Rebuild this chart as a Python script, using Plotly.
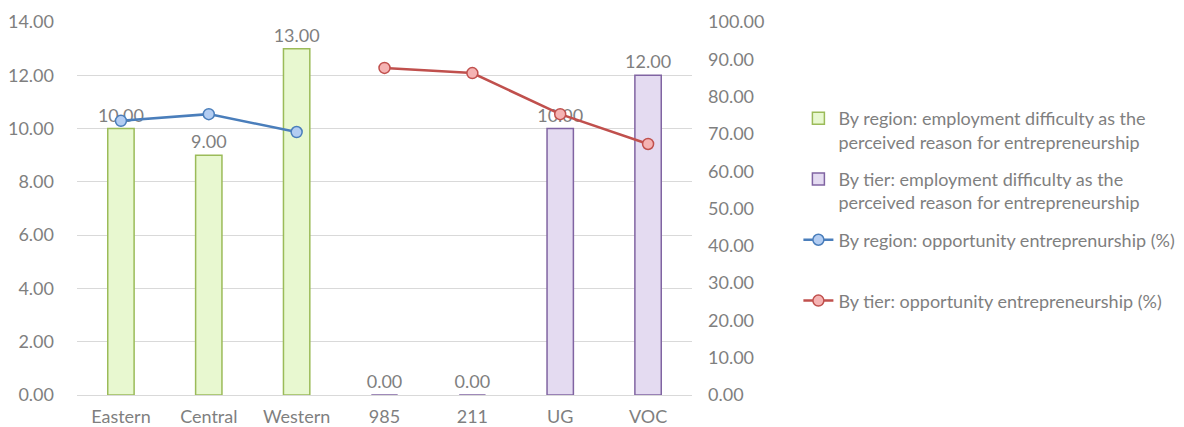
import plotly.graph_objects as go

categories = ["Eastern", "Central", "Western", "985", "211", "UG", "VOC"]
region_cats = ["Eastern", "Central", "Western"]
tier_cats = ["985", "211", "UG", "VOC"]

region_difficulty = [10, 9, 13]
tier_difficulty = [0, 0, 10, 12]
region_opportunity = [73.5, 75.3, 70.5]
tier_opportunity = [87.7, 86.3, 75.3, 67.3]

left_ticks = [0, 2, 4, 6, 8, 10, 12, 14]
right_ticks = [0, 10, 20, 30, 40, 50, 60, 70, 80, 90, 100]

grey = "#7f7f7f"
font_family = "Lato, 'Open Sans', sans-serif"

fig = go.Figure()

fig.add_trace(go.Bar(
    x=region_cats, y=region_difficulty,
    name="By region: employment difficulty as the<br>perceived reason for entrepreneurship",
    legendgroup="a",
    marker=dict(color="#e8f8d0", line=dict(color="#9bbb59", width=1.5)),
    width=0.3,
    text=[f"{v:.2f}" for v in region_difficulty], textposition="outside",
    constraintext="none",
    textfont=dict(color=grey, size=18), cliponaxis=False,
))
fig.add_trace(go.Bar(
    x=tier_cats, y=tier_difficulty,
    name="By tier: employment difficulty as the<br>perceived reason for entrepreneurship",
    legendgroup="b",
    marker=dict(color="#e4dbf1", line=dict(color="#8064a2", width=1.5)),
    width=0.3,
    text=[f"{v:.2f}" for v in tier_difficulty], textposition="outside",
    constraintext="none",
    textfont=dict(color=grey, size=18), cliponaxis=False,
))
fig.add_trace(go.Scatter(
    x=region_cats, y=region_opportunity, yaxis="y2",
    name="By region: opportunity entreprenurship (%)<br> ",
    legendgroup="c",
    mode="lines+markers",
    line=dict(color="#4a7ebb", width=2.5),
    marker=dict(symbol="circle", size=11, color="#b3cdf2", line=dict(color="#4a7ebb", width=1.5)),
))
fig.add_trace(go.Scatter(
    x=tier_cats, y=tier_opportunity, yaxis="y2",
    name="By tier: opportunity entrepreneurship (%)",
    legendgroup="d",
    mode="lines+markers",
    line=dict(color="#c0504d", width=2.5),
    marker=dict(symbol="circle", size=11, color="#f5b3b3", line=dict(color="#c0504d", width=1.5)),
))

fig.update_layout(
    width=1184, height=427,
    margin=dict(l=69, r=497, t=14, b=40),
    paper_bgcolor="white", plot_bgcolor="white",
    font=dict(family=font_family, size=18, color=grey),
    barmode="overlay",
    showlegend=True,
    legend=dict(x=1.173, y=0.791, xanchor="left", yanchor="top",
                font=dict(size=18, color=grey), valign="top",
                tracegroupgap=11, itemwidth=30, traceorder="grouped"),
    xaxis=dict(categoryorder="array", categoryarray=categories,
               showline=False, ticks="", tickfont=dict(size=18, color=grey),
               range=[-0.5, 6.5], automargin=False, ticklabelstandoff=9),
    yaxis=dict(range=[0, 14], tickvals=left_ticks, tickformat=".2f",
               showgrid=True, gridcolor="#d9d9d9", gridwidth=1,
               zeroline=True, zerolinecolor="#d9d9d9", zerolinewidth=1,
               automargin=False,
               ticklabelstandoff=22, tickfont=dict(size=18, color=grey)),
    yaxis2=dict(range=[0, 100], tickvals=right_ticks, tickformat=".2f",
                overlaying="y", side="right", showgrid=False, zeroline=False,
                automargin=False,
                ticklabelstandoff=15, tickfont=dict(size=18, color=grey)),
)

fig.write_html("out.html")
